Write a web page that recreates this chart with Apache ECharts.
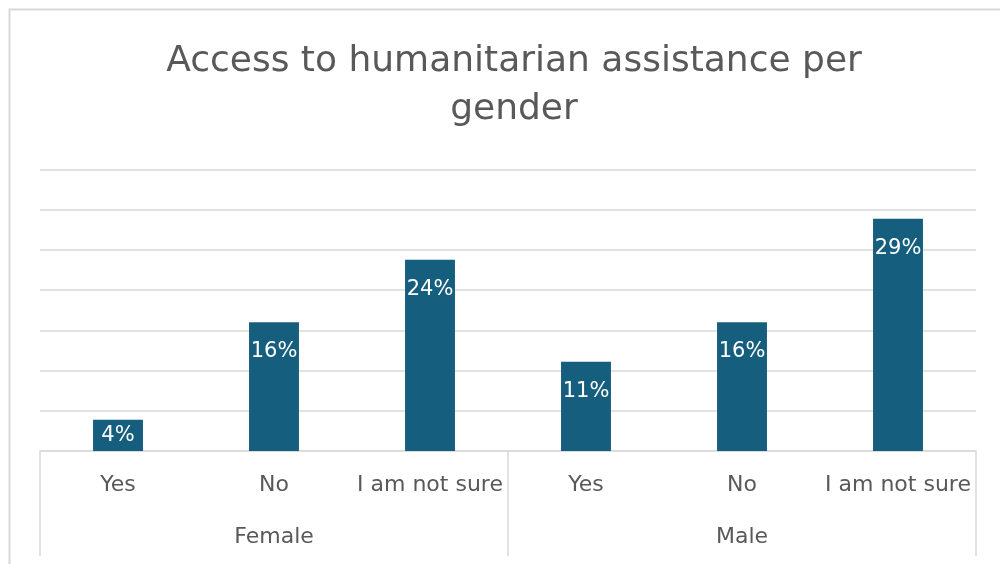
<!DOCTYPE html>
<html>
<head>
<meta charset="utf-8">
<script src="https://cdn.jsdelivr.net/npm/echarts@6/dist/echarts.min.js"></script>
<style>html,body{margin:0;padding:0;background:#fff}#c{width:1000px;height:564px}</style>
</head>
<body>
<div id="c"></div>
<script>
const categories = ['Yes', 'No', 'I am not sure', 'Yes', 'No', 'I am not sure'];
const groups = ['Female', 'Male'];
const values = [3.9, 16.0, 23.8, 11.1, 16.0, 28.9];
const yTicks = [0, 5, 10, 15, 20, 25, 30, 35];

const chart = echarts.init(document.getElementById('c'));
const grey = '#595959';
const lineGrey = '#d9d9d9';
const font = 'DejaVu Sans';
chart.setOption({
  animation: false,
  title: {
    text: 'Access to humanitarian assistance per\ngender',
    left: 509,
    textAlign: 'center',
    top: 33,
    textStyle: { fontFamily: font, fontSize: 36, fontWeight: 'normal', color: grey, lineHeight: 48 }
  },
  graphic: [{
    type: 'rect', shape: { x: 9.5, y: 9.5, width: 1100, height: 700 },
    style: { fill: 'none', stroke: lineGrey, lineWidth: 2 }
  }],
  grid: { left: 40, right: 24, top: 169.6, bottom: 113 },
  xAxis: [{
    type: 'category', data: categories, position: 'bottom',
    axisLine: { show: true, lineStyle: { color: lineGrey, width: 1.5 } },
    axisTick: { show: false },
    axisLabel: { color: grey, fontFamily: font, fontSize: 22, margin: 23, interval: 0 }
  }, {
    type: 'category', data: groups, position: 'bottom',
    axisLine: { show: false },
    axisTick: { show: true, length: 105, lineStyle: { color: lineGrey, width: 1.5 } },
    axisLabel: { color: grey, fontFamily: font, fontSize: 22, margin: 75 }
  }],
  yAxis: {
    type: 'value', min: yTicks[0], max: yTicks[yTicks.length - 1], interval: yTicks[1] - yTicks[0],
    axisLabel: { show: false }, axisLine: { show: false }, axisTick: { show: false },
    splitLine: { lineStyle: { color: lineGrey, width: 1.5 } }
  },
  series: [{
    type: 'bar', xAxisIndex: 0, barWidth: '32%',
    data: values.map(v => v < 6 ? { value: v, label: { position: 'inside', distance: 0 } } : v),
    itemStyle: { color: '#165E7E' },
    label: {
      show: true, position: 'insideTop', distance: 19, color: '#fff',
      fontFamily: font, fontSize: 21,
      formatter: p => Math.round(p.value) + '%'
    }
  }]
});
</script>
</body>
</html>
